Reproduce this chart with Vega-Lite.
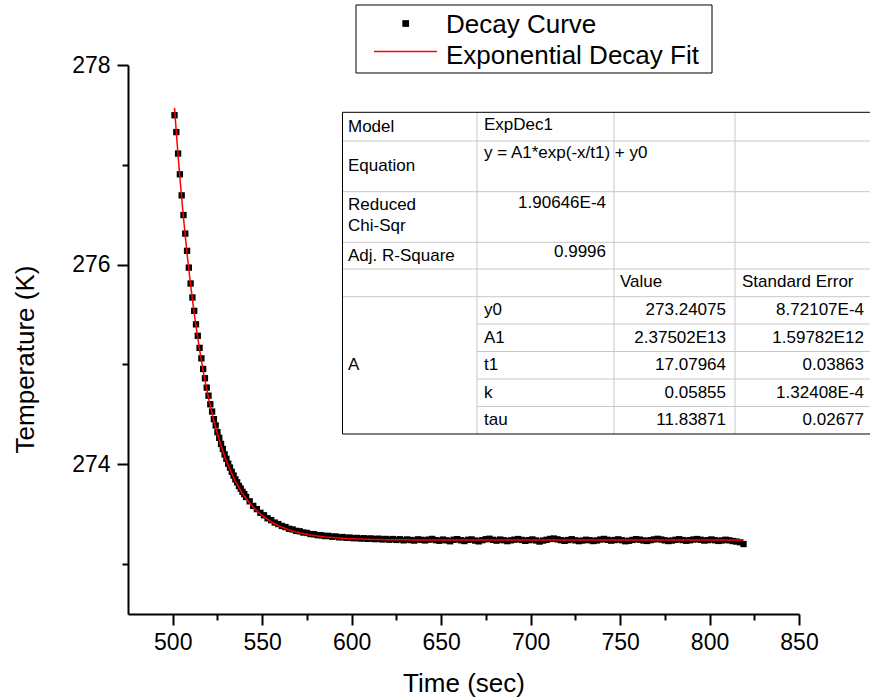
{
"$schema":"https://vega.github.io/schema/vega-lite/v6.json",
"width":671,"height":549,
"autosize":{"type":"none"},
"padding":{"left":128,"top":65,"right":71,"bottom":86},
"background":"white",
"config":{
 "view":{"stroke":null},
 "axis":{"domainColor":"black","domainWidth":2,"tickColor":"black","tickWidth":2,"labelColor":"black","titleColor":"black","labelFont":"Liberation Sans","titleFont":"Liberation Sans","labelFontSize":23,"titleFontSize":26,"titleFontWeight":"normal","grid":false,"labelFlush":false,"labelOverlap":false},
 "text":{"font":"Liberation Sans","fontSize":17,"color":"black"},
 "rule":{"color":"#c8c8c8","strokeWidth":1}
},
"datasets":{
 "frame":[{"item":"table"}],
 "legend":[{"series":"Decay Curve"},{"series":"Exponential Decay Fit"}],
 "table":[
  {"cell":"model_label","text":"Model"},
  {"cell":"model","text":"ExpDec1"},
  {"cell":"eq_label","text":"Equation"},
  {"cell":"eq","text":"y = A1*exp(-x/t1) + y0"},
  {"cell":"chi_label","text":"Reduced Chi-Sqr"},
  {"cell":"chi","text":"1.90646E-4"},
  {"cell":"r2_label","text":"Adj. R-Square"},
  {"cell":"r2","text":"0.9996"},
  {"cell":"h_value","text":"Value"},
  {"cell":"h_se","text":"Standard Error"},
  {"cell":"group","text":"A"}
 ],
 "params":[
  {"param":"y0","value":"273.24075","se":"8.72107E-4"},
  {"param":"A1","value":"2.37502E13","se":"1.59782E12"},
  {"param":"t1","value":"17.07964","se":"0.03863"},
  {"param":"k","value":"0.05855","se":"1.32408E-4"},
  {"param":"tau","value":"11.83871","se":"0.02677"}
 ],
 "decay":[
  {"t":501,"T":277.497,"fit":277.570},{"t":502,"T":277.328,"fit":277.325},{"t":503,"T":277.113,"fit":277.092},{"t":504,"T":276.905,"fit":276.873},{"t":505,"T":276.694,"fit":276.667},
  {"t":506,"T":276.497,"fit":276.472},{"t":507,"T":276.311,"fit":276.288},{"t":508,"T":276.138,"fit":276.115},{"t":509,"T":275.970,"fit":275.951},{"t":510,"T":275.811,"fit":275.797},
  {"t":511,"T":275.671,"fit":275.652},{"t":512,"T":275.537,"fit":275.515},{"t":513,"T":275.402,"fit":275.385},{"t":514,"T":275.287,"fit":275.263},{"t":515,"T":275.166,"fit":275.148},
  {"t":516,"T":275.061,"fit":275.040},{"t":517,"T":274.955,"fit":274.938},{"t":518,"T":274.862,"fit":274.841},{"t":519,"T":274.768,"fit":274.750},{"t":520,"T":274.687,"fit":274.664},
  {"t":521,"T":274.601,"fit":274.583},{"t":522,"T":274.528,"fit":274.507},{"t":523,"T":274.452,"fit":274.435},{"t":524,"T":274.389,"fit":274.367},{"t":525,"T":274.321,"fit":274.303},
  {"t":526,"T":274.265,"fit":274.243},{"t":527,"T":274.204,"fit":274.186},{"t":528,"T":274.153,"fit":274.132},{"t":529,"T":274.099,"fit":274.081},{"t":530,"T":274.055,"fit":274.033},
  {"t":531,"T":274.006,"fit":273.988},{"t":532,"T":273.967,"fit":273.946},{"t":533,"T":273.924,"fit":273.906},{"t":534,"T":273.887,"fit":273.868},{"t":535,"T":273.849,"fit":273.832},
  {"t":536,"T":273.819,"fit":273.799},{"t":537,"T":273.783,"fit":273.767},{"t":538,"T":273.756,"fit":273.737},{"t":539,"T":273.724,"fit":273.709},{"t":540,"T":273.701,"fit":273.682},
  {"t":541,"T":273.672,"fit":273.657},{"t":543,"T":273.629,"fit":273.611},{"t":545,"T":273.583,"fit":273.570},{"t":547,"T":273.551,"fit":273.534},{"t":549,"T":273.514,"fit":273.501},
  {"t":551,"T":273.489,"fit":273.473},{"t":553,"T":273.459,"fit":273.447},{"t":555,"T":273.440,"fit":273.424},{"t":557,"T":273.416,"fit":273.404},{"t":559,"T":273.401,"fit":273.386},
  {"t":561,"T":273.382,"fit":273.370},{"t":563,"T":273.371,"fit":273.356},{"t":565,"T":273.354,"fit":273.343},{"t":567,"T":273.347,"fit":273.332},{"t":569,"T":273.333,"fit":273.322},
  {"t":571,"T":273.328,"fit":273.313},{"t":573,"T":273.316,"fit":273.305},{"t":575,"T":273.312,"fit":273.298},{"t":577,"T":273.301,"fit":273.291},{"t":579,"T":273.299,"fit":273.286},
  {"t":581,"T":273.290,"fit":273.281},{"t":583,"T":273.289,"fit":273.276},{"t":585,"T":273.281,"fit":273.272},{"t":587,"T":273.283,"fit":273.269},{"t":589,"T":273.274,"fit":273.266},
  {"t":591,"T":273.277,"fit":273.263},{"t":593,"T":273.268,"fit":273.261},{"t":595,"T":273.271,"fit":273.258},{"t":597,"T":273.263,"fit":273.256},{"t":599,"T":273.266,"fit":273.255},
  {"t":601,"T":273.259,"fit":273.253},{"t":603,"T":273.262,"fit":273.252},{"t":605,"T":273.256,"fit":273.251},{"t":607,"T":273.259,"fit":273.250},{"t":609,"T":273.253,"fit":273.249},
  {"t":611,"T":273.257,"fit":273.248},{"t":613,"T":273.250,"fit":273.247},{"t":615,"T":273.255,"fit":273.246},{"t":617,"T":273.247,"fit":273.246},{"t":619,"T":273.252,"fit":273.245},
  {"t":621,"T":273.244,"fit":273.245},{"t":623,"T":273.251,"fit":273.244},{"t":625,"T":273.242,"fit":273.244},{"t":627,"T":273.249,"fit":273.243},{"t":629,"T":273.238,"fit":273.243},
  {"t":631,"T":273.247,"fit":273.243},{"t":633,"T":273.241,"fit":273.242},{"t":635,"T":273.236,"fit":273.242},{"t":637,"T":273.248,"fit":273.242},{"t":639,"T":273.243,"fit":273.242},
  {"t":641,"T":273.237,"fit":273.242},{"t":643,"T":273.245,"fit":273.242},{"t":645,"T":273.252,"fit":273.241},{"t":647,"T":273.240,"fit":273.241},{"t":649,"T":273.234,"fit":273.241},
  {"t":651,"T":273.246,"fit":273.241},{"t":653,"T":273.238,"fit":273.241},{"t":655,"T":273.229,"fit":273.241},{"t":657,"T":273.244,"fit":273.241},{"t":659,"T":273.250,"fit":273.241},
  {"t":661,"T":273.239,"fit":273.241},{"t":663,"T":273.231,"fit":273.241},{"t":665,"T":273.243,"fit":273.241},{"t":667,"T":273.247,"fit":273.241},{"t":669,"T":273.236,"fit":273.241},
  {"t":671,"T":273.228,"fit":273.241},{"t":673,"T":273.240,"fit":273.241},{"t":675,"T":273.249,"fit":273.241},{"t":677,"T":273.254,"fit":273.241},{"t":679,"T":273.243,"fit":273.241},
  {"t":681,"T":273.235,"fit":273.241},{"t":683,"T":273.246,"fit":273.241},{"t":685,"T":273.239,"fit":273.241},{"t":687,"T":273.230,"fit":273.241},{"t":689,"T":273.238,"fit":273.241},
  {"t":691,"T":273.245,"fit":273.241},{"t":693,"T":273.251,"fit":273.241},{"t":695,"T":273.242,"fit":273.241},{"t":697,"T":273.233,"fit":273.241},{"t":699,"T":273.240,"fit":273.241},
  {"t":701,"T":273.247,"fit":273.241},{"t":703,"T":273.237,"fit":273.241},{"t":705,"T":273.226,"fit":273.241},{"t":707,"T":273.236,"fit":273.241},{"t":709,"T":273.244,"fit":273.241},
  {"t":711,"T":273.252,"fit":273.241},{"t":713,"T":273.256,"fit":273.241},{"t":715,"T":273.248,"fit":273.241},{"t":717,"T":273.240,"fit":273.241},{"t":719,"T":273.233,"fit":273.241},
  {"t":721,"T":273.241,"fit":273.241},{"t":723,"T":273.249,"fit":273.241},{"t":725,"T":273.238,"fit":273.241},{"t":727,"T":273.230,"fit":273.241},{"t":729,"T":273.236,"fit":273.241},
  {"t":731,"T":273.244,"fit":273.241},{"t":733,"T":273.239,"fit":273.241},{"t":735,"T":273.231,"fit":273.241},{"t":737,"T":273.237,"fit":273.241},{"t":739,"T":273.246,"fit":273.241},
  {"t":741,"T":273.252,"fit":273.241},{"t":743,"T":273.243,"fit":273.241},{"t":745,"T":273.235,"fit":273.241},{"t":747,"T":273.241,"fit":273.241},{"t":749,"T":273.248,"fit":273.241},
  {"t":751,"T":273.239,"fit":273.241},{"t":753,"T":273.229,"fit":273.241},{"t":755,"T":273.234,"fit":273.241},{"t":757,"T":273.242,"fit":273.241},{"t":759,"T":273.250,"fit":273.241},
  {"t":761,"T":273.245,"fit":273.241},{"t":763,"T":273.237,"fit":273.241},{"t":765,"T":273.232,"fit":273.241},{"t":767,"T":273.240,"fit":273.241},{"t":769,"T":273.247,"fit":273.241},
  {"t":771,"T":273.253,"fit":273.241},{"t":773,"T":273.246,"fit":273.241},{"t":775,"T":273.238,"fit":273.241},{"t":777,"T":273.231,"fit":273.241},{"t":779,"T":273.236,"fit":273.241},
  {"t":781,"T":273.243,"fit":273.241},{"t":783,"T":273.249,"fit":273.241},{"t":785,"T":273.241,"fit":273.241},{"t":787,"T":273.234,"fit":273.241},{"t":789,"T":273.239,"fit":273.241},
  {"t":791,"T":273.246,"fit":273.241},{"t":793,"T":273.251,"fit":273.241},{"t":795,"T":273.244,"fit":273.241},{"t":797,"T":273.236,"fit":273.241},{"t":799,"T":273.240,"fit":273.241},
  {"t":801,"T":273.247,"fit":273.241},{"t":803,"T":273.239,"fit":273.241},{"t":805,"T":273.232,"fit":273.241},{"t":807,"T":273.237,"fit":273.241},{"t":809,"T":273.244,"fit":273.241},
  {"t":811,"T":273.238,"fit":273.241},{"t":813,"T":273.231,"fit":273.241},{"t":815,"T":273.226,"fit":273.241},{"t":817,"T":273.219,"fit":273.241},{"t":819,"T":273.201,"fit":273.241}
 ]
},
"data":{"name":"frame"},
"resolve":{"axis":{"x":"independent","y":"independent"}},
"layer":[
 {"data":{"name":"decay"},
  "mark":{"type":"point","shape":"square","filled":true,"color":"black","size":40,"opacity":1,"strokeWidth":0},
  "encoding":{
   "x":{"field":"t","type":"quantitative","scale":{"domain":[475,850],"nice":false,"zero":false},
        "axis":{"orient":"bottom","values":[500,550,600,650,700,750,800,850],"title":"Time (sec)","tickSize":11,"labelPadding":6,"titleY":77,"titleBaseline":"alphabetic"}},
   "y":{"field":"T","type":"quantitative","scale":{"domain":[272.5,278],"nice":false,"zero":false},
        "axis":{"orient":"left","values":[274,276,278],"title":"Temperature (K)","tickSize":11,"labelPadding":7,"titleX":-94.7,"titleY":294,"titleAngle":270,"titleAlign":"center","titleBaseline":"alphabetic"}}
  }},
 {"data":{"name":"decay"},
  "mark":{"type":"line","color":"#ff0000","strokeWidth":1.5},
  "encoding":{
   "x":{"field":"t","type":"quantitative","axis":{"orient":"bottom","values":[525,575,625,675,725,775,825],"labels":false,"title":null,"tickSize":6,"domain":false}},
   "y":{"field":"fit","type":"quantitative","axis":{"orient":"left","values":[273,275,277],"labels":false,"title":null,"tickSize":6,"domain":false}}
  }},

 {"mark":{"type":"rule"},"encoding":{"x":{"datum":594.88,"axis":null},"x2":{"datum":889.68},"y":{"datum":277.2386,"axis":null}}},
 {"mark":{"type":"rule"},"encoding":{"x":{"datum":594.88,"axis":null},"x2":{"datum":889.68},"y":{"datum":276.7307,"axis":null}}},
 {"mark":{"type":"rule"},"encoding":{"x":{"datum":594.88,"axis":null},"x2":{"datum":889.68},"y":{"datum":276.2238,"axis":null}}},
 {"mark":{"type":"rule"},"encoding":{"x":{"datum":594.88,"axis":null},"x2":{"datum":889.68},"y":{"datum":275.9563,"axis":null}}},
 {"mark":{"type":"rule"},"encoding":{"x":{"datum":594.88,"axis":null},"x2":{"datum":889.68},"y":{"datum":275.6788,"axis":null}}},
 {"mark":{"type":"rule"},"encoding":{"x":{"datum":670.04,"axis":null},"x2":{"datum":889.68},"y":{"datum":275.4053,"axis":null}}},
 {"mark":{"type":"rule"},"encoding":{"x":{"datum":670.04,"axis":null},"x2":{"datum":889.68},"y":{"datum":275.1298,"axis":null}}},
 {"mark":{"type":"rule"},"encoding":{"x":{"datum":670.04,"axis":null},"x2":{"datum":889.68},"y":{"datum":274.8543,"axis":null}}},
 {"mark":{"type":"rule"},"encoding":{"x":{"datum":670.04,"axis":null},"x2":{"datum":889.68},"y":{"datum":274.5788,"axis":null}}},
 {"mark":{"type":"rule"},"encoding":{"x":{"datum":670.04,"axis":null},"y":{"datum":277.5261,"axis":null},"y2":{"datum":274.3033}}},
 {"mark":{"type":"rule"},"encoding":{"x":{"datum":746.61,"axis":null},"y":{"datum":277.5261,"axis":null},"y2":{"datum":274.3033}}},
 {"mark":{"type":"rule"},"encoding":{"x":{"datum":814.23,"axis":null},"y":{"datum":277.5261,"axis":null},"y2":{"datum":274.3033}}},
 {"mark":{"type":"rule","color":"black"},"encoding":{"x":{"datum":594.88,"axis":null},"x2":{"datum":889.68},"y":{"datum":277.5261,"axis":null}}},
 {"mark":{"type":"rule","color":"black"},"encoding":{"x":{"datum":594.88,"axis":null},"x2":{"datum":889.68},"y":{"datum":274.3033,"axis":null}}},
 {"mark":{"type":"rule","color":"black"},"encoding":{"x":{"datum":594.88,"axis":null},"y":{"datum":277.5261,"axis":null},"y2":{"datum":274.3033}}},

 {"data":{"name":"table"},"transform":[{"filter":"datum.cell==='model_label'"}],"mark":{"type":"text","align":"left","baseline":"middle"},"encoding":{"x":{"datum":597.95,"axis":null},"y":{"datum":277.3739,"axis":null},"text":{"field":"text"}}},
 {"data":{"name":"table"},"transform":[{"filter":"datum.cell==='eq_label'"}],"mark":{"type":"text","align":"left","baseline":"middle"},"encoding":{"x":{"datum":597.95,"axis":null},"y":{"datum":276.9832,"axis":null},"text":{"field":"text"}}},
 {"data":{"name":"table"},"transform":[{"filter":"datum.cell==='chi_label'"}],"mark":{"type":"text","align":"left","baseline":"middle","lineBreak":" ","lineHeight":21},"encoding":{"x":{"datum":597.95,"axis":null},"y":{"datum":276.5974,"axis":null},"text":{"field":"text"}}},
 {"data":{"name":"table"},"transform":[{"filter":"datum.cell==='r2_label'"}],"mark":{"type":"text","align":"left","baseline":"middle"},"encoding":{"x":{"datum":597.95,"axis":null},"y":{"datum":276.0865,"axis":null},"text":{"field":"text"}}},
 {"data":{"name":"table"},"transform":[{"filter":"datum.cell==='group'"}],"mark":{"type":"text","align":"left","baseline":"middle"},"encoding":{"x":{"datum":597.95,"axis":null},"y":{"datum":274.9945,"axis":null},"text":{"field":"text"}}},
 {"data":{"name":"table"},"transform":[{"filter":"datum.cell==='model'"}],"mark":{"type":"text","align":"left","baseline":"middle"},"encoding":{"x":{"datum":673.96,"axis":null},"y":{"datum":277.3989,"axis":null},"text":{"field":"text"}}},
 {"data":{"name":"table"},"transform":[{"filter":"datum.cell==='eq'"}],"mark":{"type":"text","align":"left","baseline":"middle"},"encoding":{"x":{"datum":673.96,"axis":null},"y":{"datum":277.1184,"axis":null},"text":{"field":"text"}}},
 {"data":{"name":"table"},"transform":[{"filter":"datum.cell==='chi'"}],"mark":{"type":"text","align":"right","baseline":"middle"},"encoding":{"x":{"datum":742.14,"axis":null},"y":{"datum":276.6175,"axis":null},"text":{"field":"text"}}},
 {"data":{"name":"table"},"transform":[{"filter":"datum.cell==='r2'"}],"mark":{"type":"text","align":"right","baseline":"middle"},"encoding":{"x":{"datum":742.14,"axis":null},"y":{"datum":276.1316,"axis":null},"text":{"field":"text"}}},
 {"data":{"name":"table"},"transform":[{"filter":"datum.cell==='h_value'"}],"mark":{"type":"text","align":"left","baseline":"middle"},"encoding":{"x":{"datum":749.96,"axis":null},"y":{"datum":275.826,"axis":null},"text":{"field":"text"}}},
 {"data":{"name":"table"},"transform":[{"filter":"datum.cell==='h_se'"}],"mark":{"type":"text","align":"left","baseline":"middle"},"encoding":{"x":{"datum":818.15,"axis":null},"y":{"datum":275.826,"axis":null},"text":{"field":"text"}}},

 {"data":{"name":"params"},"transform":[{"filter":"datum.param==='y0'"}],"encoding":{"y":{"datum":275.5455,"axis":null}},"layer":[
   {"mark":{"type":"text","align":"left","baseline":"middle"},"encoding":{"x":{"datum":673.96,"axis":null},"text":{"field":"param"}}},
   {"mark":{"type":"text","align":"right","baseline":"middle"},"encoding":{"x":{"datum":809.2,"axis":null},"text":{"field":"value"}}},
   {"mark":{"type":"text","align":"right","baseline":"middle"},"encoding":{"x":{"datum":886.33,"axis":null},"text":{"field":"se"}}}]},
 {"data":{"name":"params"},"transform":[{"filter":"datum.param==='A1'"}],"encoding":{"y":{"datum":275.27,"axis":null}},"layer":[
   {"mark":{"type":"text","align":"left","baseline":"middle"},"encoding":{"x":{"datum":673.96,"axis":null},"text":{"field":"param"}}},
   {"mark":{"type":"text","align":"right","baseline":"middle"},"encoding":{"x":{"datum":809.2,"axis":null},"text":{"field":"value"}}},
   {"mark":{"type":"text","align":"right","baseline":"middle"},"encoding":{"x":{"datum":886.33,"axis":null},"text":{"field":"se"}}}]},
 {"data":{"name":"params"},"transform":[{"filter":"datum.param==='t1'"}],"encoding":{"y":{"datum":274.9945,"axis":null}},"layer":[
   {"mark":{"type":"text","align":"left","baseline":"middle"},"encoding":{"x":{"datum":673.96,"axis":null},"text":{"field":"param"}}},
   {"mark":{"type":"text","align":"right","baseline":"middle"},"encoding":{"x":{"datum":809.2,"axis":null},"text":{"field":"value"}}},
   {"mark":{"type":"text","align":"right","baseline":"middle"},"encoding":{"x":{"datum":886.33,"axis":null},"text":{"field":"se"}}}]},
 {"data":{"name":"params"},"transform":[{"filter":"datum.param==='k'"}],"encoding":{"y":{"datum":274.719,"axis":null}},"layer":[
   {"mark":{"type":"text","align":"left","baseline":"middle"},"encoding":{"x":{"datum":673.96,"axis":null},"text":{"field":"param"}}},
   {"mark":{"type":"text","align":"right","baseline":"middle"},"encoding":{"x":{"datum":809.2,"axis":null},"text":{"field":"value"}}},
   {"mark":{"type":"text","align":"right","baseline":"middle"},"encoding":{"x":{"datum":886.33,"axis":null},"text":{"field":"se"}}}]},
 {"data":{"name":"params"},"transform":[{"filter":"datum.param==='tau'"}],"encoding":{"y":{"datum":274.4435,"axis":null}},"layer":[
   {"mark":{"type":"text","align":"left","baseline":"middle"},"encoding":{"x":{"datum":673.96,"axis":null},"text":{"field":"param"}}},
   {"mark":{"type":"text","align":"right","baseline":"middle"},"encoding":{"x":{"datum":809.2,"axis":null},"text":{"field":"value"}}},
   {"mark":{"type":"text","align":"right","baseline":"middle"},"encoding":{"x":{"datum":886.33,"axis":null},"text":{"field":"se"}}}]},

 {"mark":{"type":"rect","fill":"white","stroke":"black","strokeWidth":1},"encoding":{"x":{"datum":602.42,"axis":null},"x2":{"datum":801.38},"y":{"datum":278.6011,"axis":null},"y2":{"datum":277.9199}}},
 {"data":{"name":"legend"},"transform":[{"filter":"datum.series==='Decay Curve'"}],"mark":{"type":"point","shape":"square","filled":true,"color":"black","size":45,"opacity":1,"strokeWidth":0},"encoding":{"x":{"datum":630.2,"axis":null},"y":{"datum":278.4158,"axis":null}}},
 {"mark":{"type":"rule","color":"#ff0000","strokeWidth":1.5},"encoding":{"x":{"datum":612.48,"axis":null},"x2":{"datum":647.69},"y":{"datum":278.1352,"axis":null}}},
 {"data":{"name":"legend"},"transform":[{"filter":"datum.series==='Decay Curve'"}],"mark":{"type":"text","align":"left","baseline":"alphabetic","fontSize":26},"encoding":{"x":{"datum":652.72,"axis":null},"y":{"datum":278.3176,"axis":null},"text":{"field":"series"}}},
 {"data":{"name":"legend"},"transform":[{"filter":"datum.series==='Exponential Decay Fit'"}],"mark":{"type":"text","align":"left","baseline":"alphabetic","fontSize":26},"encoding":{"x":{"datum":652.72,"axis":null},"y":{"datum":278.007,"axis":null},"text":{"field":"series"}}}
]
}
